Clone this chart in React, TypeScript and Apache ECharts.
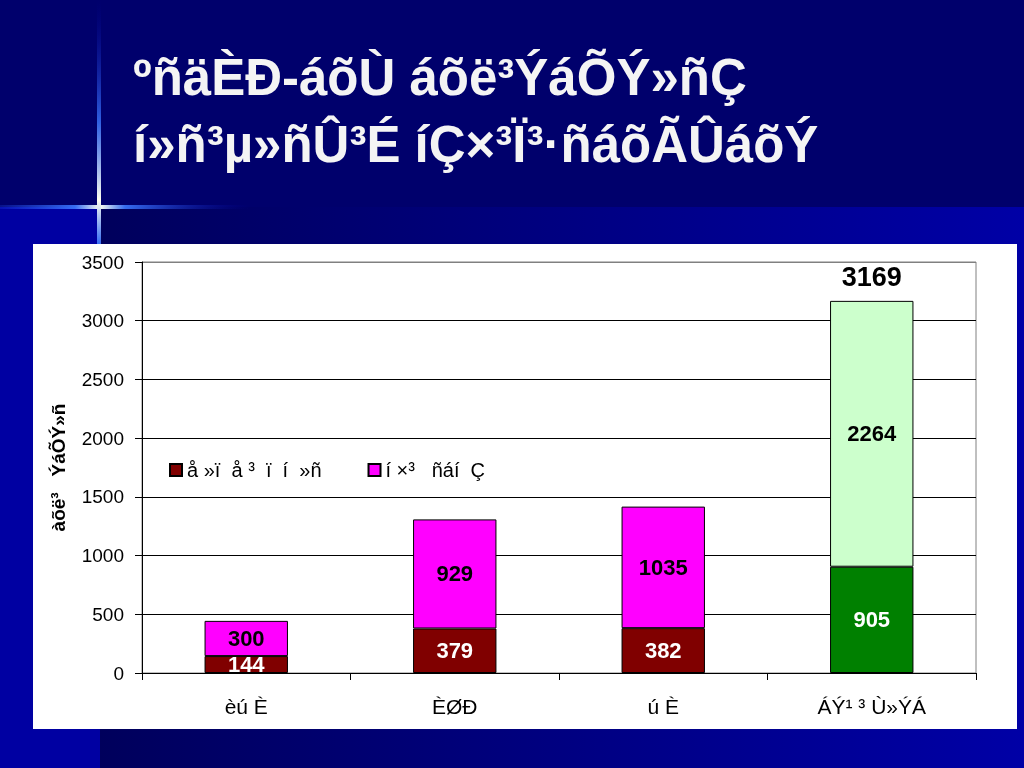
import React, { useEffect, useRef } from "react";
import * as echarts from "echarts";

const titleLine1 = "ºñäÈÐ-áõÙ áõë³ÝáÕÝ»ñÇ";
const titleLine2 = "í»ñ³µ»ñÛ³É íÇ×³Ï³·ñáõÃÛáõÝ";
const yAxisName = "àõë³   ÝáÕÝ»ñ";
const categories = ["èú È", "ÈØÐ", "ú È", "ÁÝ¹ ³ Ù»ÝÁ"];
const seriesAName = "å »ï  å ³  ï  í  »ñ";
const seriesBName = "í ×³   ñáí  Ç";
const seriesA = [144, 379, 382, null];
const seriesB = [300, 929, 1035, null];
const seriesC = [null, null, null, 905];
const seriesD = [null, null, null, 2264];
const totals = [null, null, null, 3169];

const FONT = "'Liberation Sans', Arial, sans-serif";

export default function App() {
  const ref = useRef<HTMLDivElement>(null);
  useEffect(() => {
    if (!ref.current) return;
    const chart = echarts.init(ref.current, null, { renderer: "svg" });
    const G = echarts.graphic;
    const hFlare = new G.LinearGradient(0, 0, 1, 0, [
      { offset: 0, color: "rgba(40,90,255,0.2)" },
      { offset: 0.3, color: "rgba(60,120,255,0.9)" },
      { offset: 0.4, color: "#fffff0" },
      { offset: 0.5, color: "rgba(60,120,255,0.9)" },
      { offset: 1, color: "rgba(0,0,160,0)" },
    ]);
    const vFlare = new G.LinearGradient(0, 0, 0, 1, [
      { offset: 0, color: "rgba(0,0,160,0)" },
      { offset: 0.5, color: "rgba(60,120,255,0.8)" },
      { offset: 0.82, color: "#fffff0" },
      { offset: 1, color: "rgba(60,120,255,0.9)" },
    ]);
    const lowerGrad = new G.LinearGradient(0, 0, 1, 0, [
      { offset: 0, color: "#00005c" },
      { offset: 1, color: "#0000a6" },
    ]);
    const titleText = (text: string, x: number, y: number) => ({
      type: "text",
      x,
      y,
      style: {
        text,
        fill: "#f4f4f4",
        font: `bold 51px ${FONT}`,
        textVerticalAlign: "bottom",
        textShadowColor: "#000030",
        textShadowBlur: 0,
        textShadowOffsetX: 3,
        textShadowOffsetY: 3,
      },
    });
    const option: any = {
      animation: false,
      textStyle: { fontFamily: FONT },
      graphic: [
        { type: "rect", shape: { x: 0, y: 0, width: 1024, height: 768 }, style: { fill: "#0000a2" }, z: -10 },
        { type: "rect", shape: { x: 0, y: 0, width: 1024, height: 207 }, style: { fill: "#00006c" }, z: -10 },
        { type: "rect", shape: { x: 100, y: 207, width: 924, height: 561 }, style: { fill: lowerGrad }, z: -10 },
        { type: "rect", shape: { x: 0, y: 205, width: 250, height: 4 }, style: { fill: hFlare }, z: -9 },
        { type: "rect", shape: { x: 97, y: 0, width: 4, height: 244 }, style: { fill: vFlare }, z: -9 },
        { type: "rect", shape: { x: 33, y: 244, width: 984, height: 485 }, style: { fill: "#ffffff" }, z: -8 },
        titleText(titleLine1, 133, 103),
        titleText(titleLine2, 133, 170),
      ],
      grid: {
        left: 142,
        right: 48,
        top: 262,
        bottom: 95,
        show: true,
        borderColor: "#808080",
        borderWidth: 1,
        backgroundColor: "transparent",
      },
      legend: {
        data: [seriesAName, seriesBName],
        left: 164,
        top: 455,
        itemWidth: 12,
        itemHeight: 12,
        itemGap: 46,
        icon: "rect",
        textStyle: { fontSize: 20, color: "#000", fontFamily: FONT },
      },
      xAxis: {
        type: "category",
        data: categories,
        axisLine: { lineStyle: { color: "#000", width: 1 } },
        axisTick: { show: true, length: 7, lineStyle: { color: "#000" } },
        axisLabel: { color: "#000", fontSize: 21, margin: 23, fontFamily: FONT },
      },
      yAxis: {
        type: "value",
        min: 0,
        max: 3500,
        interval: 500,
        name: yAxisName,
        nameLocation: "middle",
        nameGap: 74,
        nameTextStyle: { fontSize: 19, fontWeight: "bold", color: "#000", fontFamily: FONT },
        axisLine: { show: true, lineStyle: { color: "#000", width: 1 } },
        axisTick: { show: true, length: 7, lineStyle: { color: "#000" } },
        axisLabel: {
          color: "#000",
          fontSize: 19,
          margin: 18,
          fontFamily: FONT,
          formatter: (v: number) => String(v),
        },
        splitLine: {
          show: true,
          lineStyle: { color: ["#000", "#000", "#000", "#000", "#000", "#000", "#000", "#808080"], width: 1 },
        },
      },
      series: [
        {
          name: seriesAName,
          type: "bar",
          stack: "total",
          barWidth: "40%",
          data: seriesA,
          itemStyle: { color: "#800000", borderColor: "#000", borderWidth: 1 },
          label: { show: true, position: "inside", color: "#fff", fontSize: 22, fontWeight: "bold", fontFamily: FONT },
        },
        {
          name: seriesBName,
          type: "bar",
          stack: "total",
          data: seriesB,
          itemStyle: { color: "#ff00ff", borderColor: "#000", borderWidth: 1 },
          label: { show: true, position: "inside", color: "#000", fontSize: 22, fontWeight: "bold", fontFamily: FONT },
        },
        {
          name: "graduates",
          type: "bar",
          stack: "total",
          data: seriesC,
          itemStyle: { color: "#008000", borderColor: "#000", borderWidth: 1 },
          label: { show: true, position: "inside", color: "#fff", fontSize: 22, fontWeight: "bold", fontFamily: FONT },
        },
        {
          name: "others",
          type: "bar",
          stack: "total",
          data: seriesD,
          itemStyle: { color: "#ccffcc", borderColor: "#000", borderWidth: 1 },
          label: { show: true, position: "inside", color: "#000", fontSize: 22, fontWeight: "bold", fontFamily: FONT },
        },
        {
          name: "total",
          type: "scatter",
          data: totals,
          symbolSize: 0,
          silent: true,
          itemStyle: { opacity: 1 },
          label: { show: true, position: "top", distance: 10, color: "#000", fontSize: 27, fontWeight: "bold", fontFamily: FONT, formatter: "{c}" },
        },
      ],
    };
    chart.setOption(option);
    return () => chart.dispose();
  }, []);
  return (
    <div
      ref={ref}
      style={{ position: "fixed", left: 0, top: 0, width: 1024, height: 768 }}
    />
  );
}
